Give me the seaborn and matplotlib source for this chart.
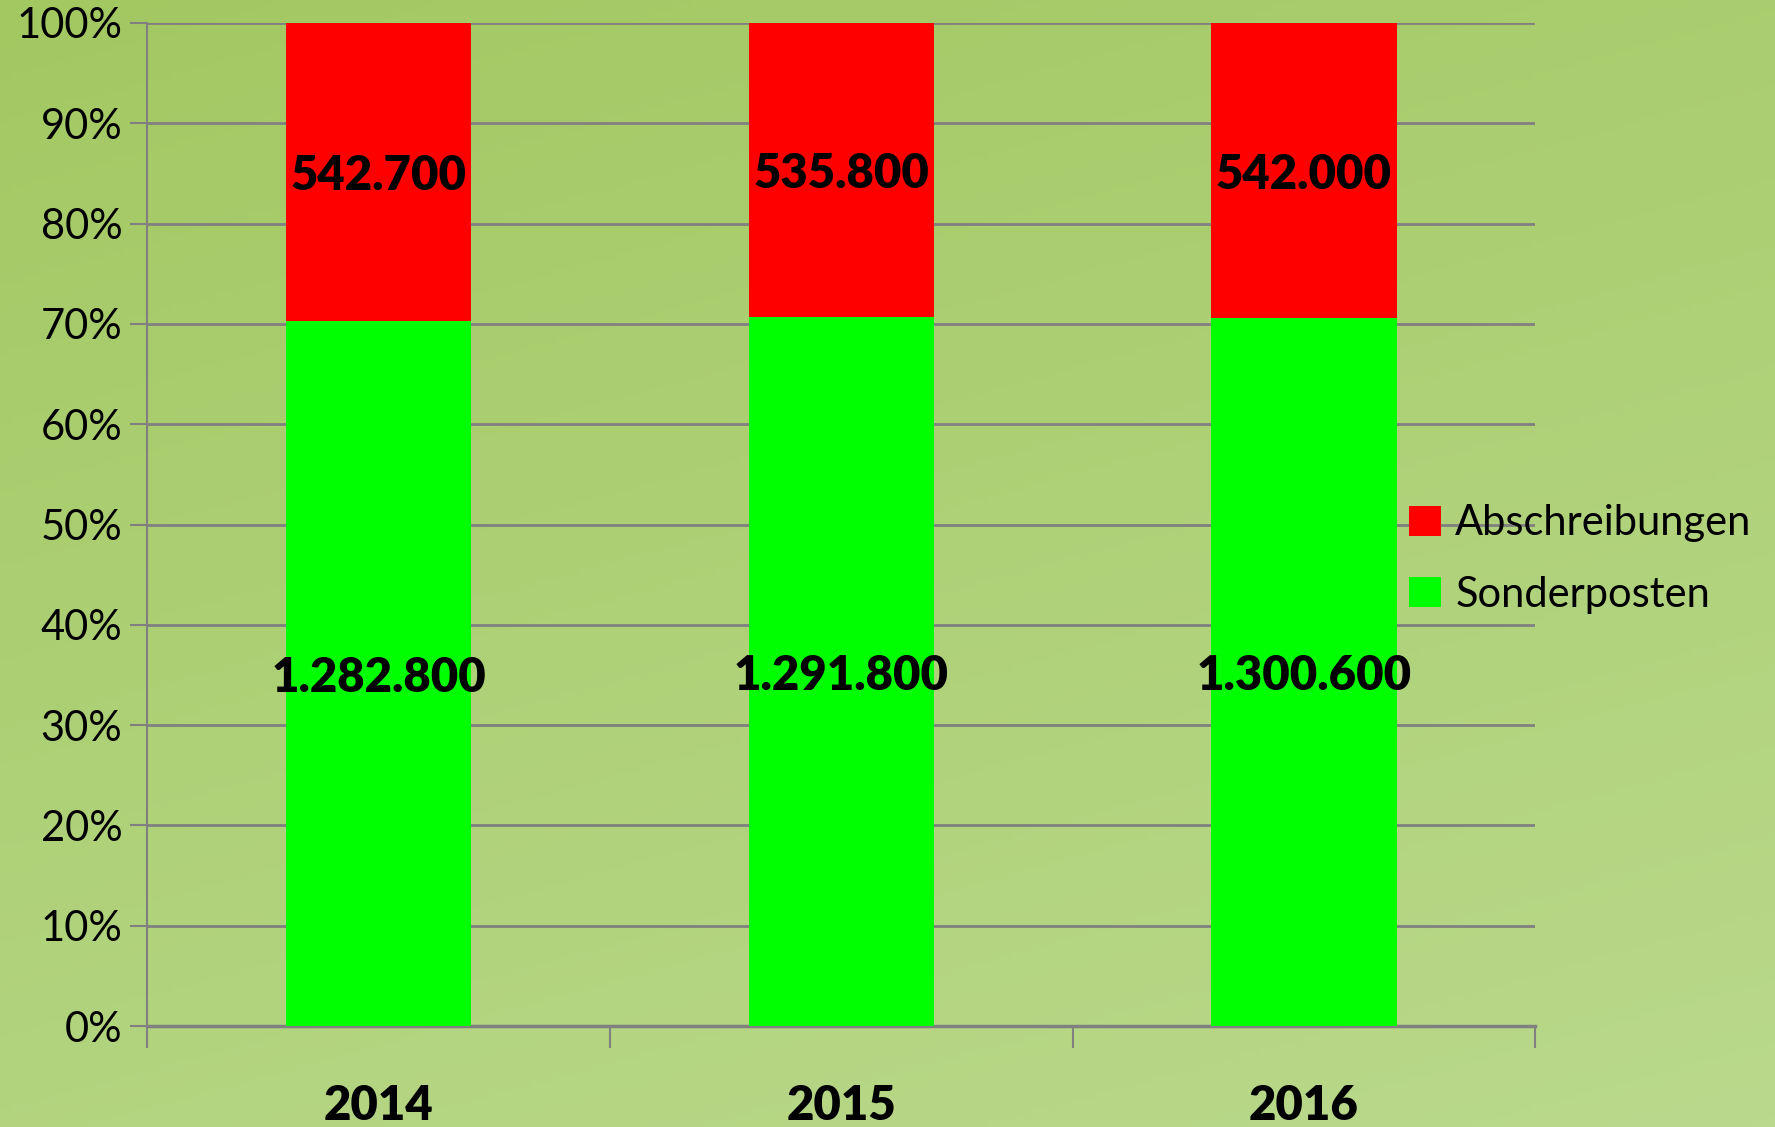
import numpy as np
import pandas as pd
import matplotlib.pyplot as plt
import seaborn as sns

years = ['2014', '2015', '2016']
sonderposten = [1282800, 1291800, 1300600]
abschreibungen = [542700, 535800, 542000]


def fmt_de(v):
    # German thousands separator
    return f'{v:,}'.replace(',', '.')


df = pd.DataFrame({'year': years, 'sonder': sonderposten, 'abschr': abschreibungen})
df['total'] = df['sonder'] + df['abschr']
df['sonder_pct'] = df['sonder'] / df['total'] * 100
df['total_pct'] = 100.0

sns.set_style('white', {'xtick.bottom': True, 'ytick.left': True,
                        'text.color': 'black', 'xtick.color': 'black',
                        'ytick.color': 'black'})
plt.rcParams['font.family'] = ['Lato', 'DejaVu Sans']

fig = plt.figure(figsize=(17.75, 11.27), dpi=100)

# green gradient background
bg = fig.add_axes([0, 0, 1, 1], zorder=-10)
yy = np.linspace(0, 1, 200)[:, None]
xx = np.linspace(0, 1, 300)[None, :]
grad = 0.35 * yy + 0.15 * xx
bg.imshow(grad, cmap=sns.blend_palette(['#a3c862', '#bad98c'], as_cmap=True),
          aspect='auto', extent=[0, 1, 0, 1], vmin=0, vmax=0.5)
bg.axis('off')

ax = fig.add_axes([0.083, 0.0896, 0.782, 0.89])
ax.patch.set_alpha(0)

sns.barplot(data=df, x='year', y='total_pct', color='#ff0000', width=0.4,
            saturation=1, ax=ax, label='Abschreibungen', zorder=3, linewidth=0)
sns.barplot(data=df, x='year', y='sonder_pct', color='#00ff00', width=0.4,
            saturation=1, ax=ax, label='Sonderposten', zorder=3, linewidth=0)

for i, row in df.iterrows():
    ax.text(i, (row['sonder_pct'] + 100) / 2, fmt_de(row['abschr']),
            ha='center', va='center_baseline', fontsize=34, fontweight='heavy',
            color='black', zorder=5)
    ax.text(i, row['sonder_pct'] / 2, fmt_de(row['sonder']),
            ha='center', va='center_baseline', fontsize=34, fontweight='heavy',
            color='black', zorder=5)

ax.set_xlim(-0.5, 2.5)
ax.set_ylim(0, 100)
ax.set_yticks(np.arange(0, 101, 10))
ax.set_yticklabels([f'{t}%' for t in range(0, 101, 10)], fontsize=30, color='black')
ax.yaxis.grid(True, color='#808080', linewidth=2, zorder=0)
ax.set_axisbelow(True)

ax.set_xticks([-0.5, 0.5, 1.5, 2.5])
ax.set_xticklabels([])
for i, y in enumerate(years):
    ax.text(i, -8.0, y, ha='center', va='center', fontsize=34,
            fontweight='heavy', color='black')

ax.tick_params(axis='x', bottom=True, length=16, width=1.5, color='#808080',
               direction='out')
ax.tick_params(axis='y', left=True, length=12, width=1.5, color='#808080',
               direction='out', pad=6)
ax.set_xlabel('')
ax.set_ylabel('')
for s in ['top', 'right']:
    ax.spines[s].set_visible(False)
ax.spines['left'].set_color('#808080')
ax.spines['left'].set_linewidth(1.5)
ax.spines['bottom'].set_color('#808080')
ax.spines['bottom'].set_linewidth(2.5)

handles, labels = ax.get_legend_handles_labels()
if ax.get_legend() is not None:
    ax.get_legend().remove()
fig.legend(handles, labels, loc='center left', bbox_to_anchor=(0.794, 0.504),
           frameon=False, fontsize=30, handlelength=0.75, handleheight=0.75,
           handletextpad=0.35, labelspacing=0.8, borderaxespad=0.0,
           borderpad=0.0)

fig.savefig('out.png', dpi=100)
